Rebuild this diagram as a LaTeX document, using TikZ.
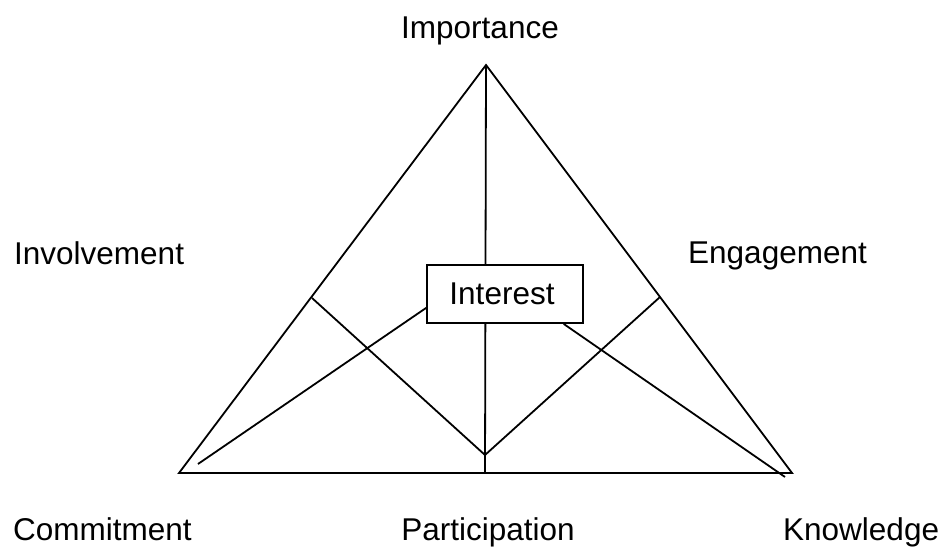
\documentclass[tikz,border=0pt]{standalone}
\usepackage{fontspec}
\setmainfont{Liberation Sans}
\usepackage{tikz}

\begin{document}
\begin{tikzpicture}[
  x=1pt,y=-1pt,
  lbl/.style={font=\fontsize{31.5}{36}\selectfont,inner sep=0pt},
  box/.style={draw,fill=white,line width=1.8pt,minimum width=156pt,minimum height=58pt,inner sep=0pt,font=\fontsize{31.5}{36}\selectfont},
  ln/.style={line width=1.8pt}
]
\useasboundingbox (0,0) rectangle (943,547);

\coordinate (t0) at (486,65);
\coordinate (t1) at (179,473);
\coordinate (t2) at (792,473);
\coordinate (p0) at (485,473);
\coordinate (v0) at (485,455);
\coordinate (s1) at (312,298);
\coordinate (s2) at (660,297);
\coordinate (a1) at (198,464);
\coordinate (a2) at (785,477);

\draw[ln,line join=miter] (t0) -- (t1) -- (t2) -- cycle;
\draw[ln] (t0) -- (p0);
\draw[ln] (s1) -- (v0) -- (s2);

\node[box] (int) at (505,294) {};
\node[lbl,anchor=base] at (502,304) {Interest};

\draw[ln] (a1) -- (int.190);
\draw[ln] (int.333) -- (a2);

\node[lbl,anchor=base] (imp) at (480,38) {Importance};
\node[lbl,anchor=base west] (inv) at (14,264) {Involvement};
\node[lbl,anchor=base west] (eng) at (688,263) {Engagement};
\node[lbl,anchor=base west] (com) at (13,540) {Commitment};
\node[lbl,anchor=base] (par) at (488,540) {Participation};
\node[lbl,anchor=base west] (kno) at (783,540) {Knowledge};

\end{tikzpicture}
\end{document}
